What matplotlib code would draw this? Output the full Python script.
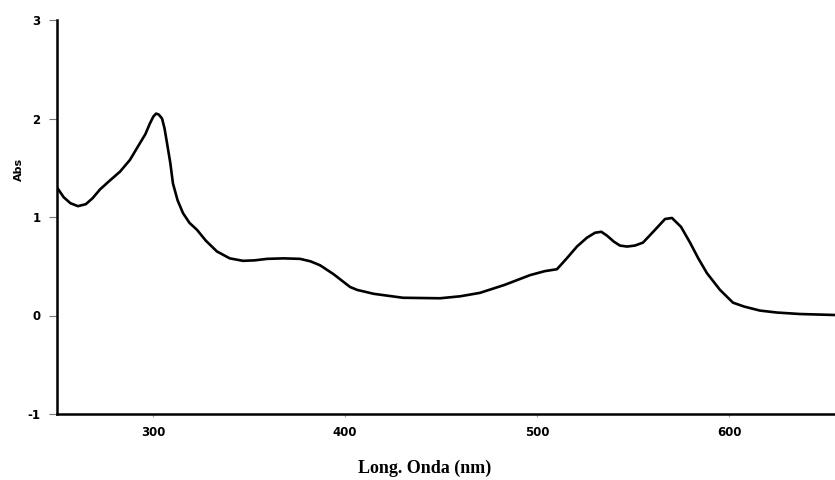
import matplotlib
matplotlib.use("Agg")
import matplotlib.pyplot as plt

plt.rcParams["axes.unicode_minus"] = False

# absorbance spectrum, wavelength in nm
wavelength = [250.0, 253.5, 257.0, 260.9, 265.0, 268.5, 272.4, 277.5, 282.8, 288.0,
              293.2, 296.0, 298.4, 300.2, 301.6, 303.0, 304.7, 306.0, 307.3, 309.0,
              310.4, 312.8, 315.6, 319.0, 322.9, 327.5, 333.3, 340.0, 346.9, 353.0,
              359.4, 368.0, 376.6, 382.0, 387.0, 394.0, 402.6, 406.3, 415.0, 430.2,
              449.5, 460.0, 470.3, 483.0, 496.4, 504.0, 510.4, 515.5, 520.8, 526.0,
              530.2, 533.5, 536.5, 540.0, 543.2, 546.9, 551.0, 555.2, 561.0, 566.7,
              570.3, 575.0, 579.7, 584.0, 588.5, 595.3, 602.1, 608.0, 616.1, 625.0,
              637.0, 655.2]
absorbance = [1.30, 1.20, 1.14, 1.11, 1.13, 1.19, 1.28, 1.37, 1.46, 1.58,
              1.75, 1.84, 1.95, 2.02, 2.05, 2.04, 2.00, 1.90, 1.75, 1.55,
              1.34, 1.17, 1.04, 0.94, 0.87, 0.76, 0.65, 0.58, 0.555, 0.56,
              0.575, 0.58, 0.575, 0.55, 0.51, 0.42, 0.29, 0.26, 0.22, 0.18,
              0.175, 0.195, 0.23, 0.31, 0.41, 0.45, 0.47, 0.58, 0.70, 0.79,
              0.84, 0.85, 0.81, 0.75, 0.71, 0.70, 0.71, 0.74, 0.86, 0.98,
              0.99, 0.90, 0.74, 0.58, 0.43, 0.26, 0.13, 0.09, 0.05, 0.03,
              0.015, 0.005]

xticks = [300, 400, 500, 600]
yticks = [-1, 0, 1, 2, 3]

fig = plt.figure(figsize=(8.35, 4.8), dpi=100)
ax = fig.add_axes([57 / 835, 66 / 480, 1 - 57 / 835, 394 / 480])

ax.plot(wavelength, absorbance, color="black", lw=1.9, solid_joinstyle="round")

ax.set_xlim(250, 655.2)
ax.set_ylim(-1, 3)
ax.set_xticks(xticks)
ax.set_yticks(yticks)

for side in ("top", "right"):
    ax.spines[side].set_visible(False)
for side in ("left", "bottom"):
    ax.spines[side].set_linewidth(1.8)

ax.tick_params(axis="y", direction="out", length=6, width=0.8, color="#777777",
               pad=6, labelsize=8.5)
ax.tick_params(axis="x", direction="out", length=2, width=0.8, color="#aaaaaa",
               pad=7, labelsize=8.5)
for lab in ax.get_xticklabels() + ax.get_yticklabels():
    lab.set_fontweight("bold")
    lab.set_family("DejaVu Sans")

ax.set_ylabel("Abs", fontsize=8, fontweight="bold")
ax.yaxis.set_label_coords(-0.042, 0.62)
ax.set_xlabel("Long. Onda (nm)", fontsize=13, fontweight="bold",
              family="Liberation Serif")
ax.xaxis.set_label_coords(0.473, -0.115)

fig.savefig("out.png", dpi=100, facecolor="white")
